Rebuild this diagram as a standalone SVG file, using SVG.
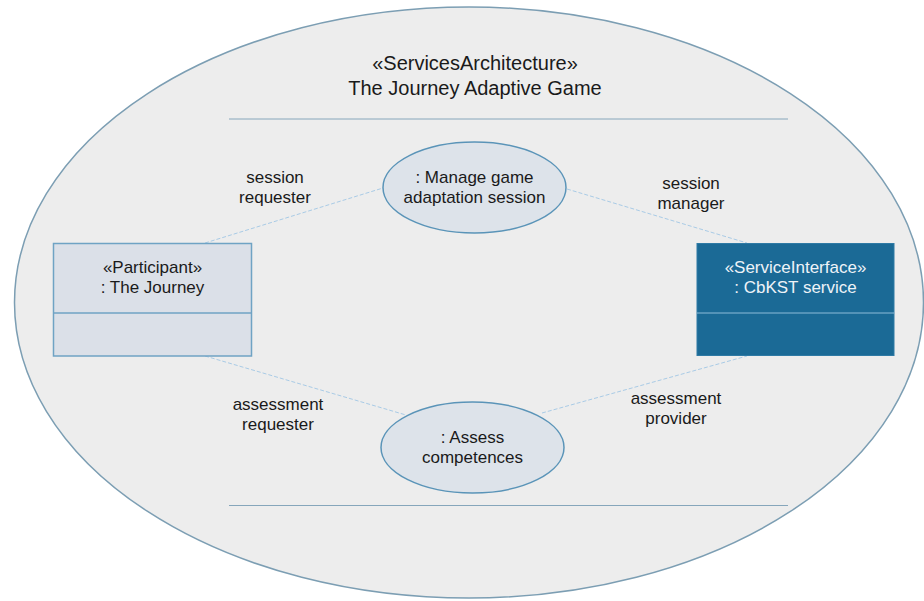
<svg xmlns="http://www.w3.org/2000/svg" width="924" height="601" viewBox="0 0 924 601">
<style>
text{font-family:"Liberation Sans",Arial,sans-serif;fill:#1a1a1a;text-anchor:middle}
.t{font-size:20px}
.l{font-size:17px}
.w{fill:#eef3f8}
.conn{stroke:#a9cbe6;stroke-width:1;stroke-dasharray:4 2;fill:none}
.sep{stroke:#86a6bb;stroke-width:1}
.uc{fill:#dde3ea;stroke:#5a94b8;stroke-width:1.5}
</style>
<rect width="924" height="601" fill="#ffffff"/>
<g id="architecture">
<ellipse cx="469" cy="302.5" rx="454.5" ry="295.5" fill="#ededed" stroke="#7c9eb3" stroke-width="1.5"/>
<text class="t" x="475" y="70">«ServicesArchitecture»</text>
<text class="t" x="475" y="95">The Journey Adaptive Game</text>
<line class="sep" x1="229" y1="119" x2="788" y2="119"/>
<line class="sep" x1="229" y1="505.5" x2="788" y2="505.5"/>
</g>
<g id="connectors">
<line class="conn" x1="205" y1="243" x2="383" y2="188"/>
<line class="conn" x1="567" y1="189" x2="747" y2="243"/>
<line class="conn" x1="205" y1="356" x2="406" y2="415"/>
<line class="conn" x1="542" y1="413" x2="747" y2="356"/>
<text class="l" x="275" y="183">session</text>
<text class="l" x="275" y="203">requester</text>
<text class="l" x="691" y="189">session</text>
<text class="l" x="691" y="209">manager</text>
<text class="l" x="278" y="410">assessment</text>
<text class="l" x="278" y="430">requester</text>
<text class="l" x="676" y="404">assessment</text>
<text class="l" x="676" y="424">provider</text>
</g>
<g id="manage">
<ellipse class="uc" cx="474.5" cy="187.5" rx="91.5" ry="45.5"/>
<text class="l" x="474.5" y="183">: Manage game</text>
<text class="l" x="474.5" y="203">adaptation session</text>
</g>
<g id="assess">
<ellipse class="uc" cx="472.5" cy="447.5" rx="91.5" ry="45.5"/>
<text class="l" x="472.5" y="443">: Assess</text>
<text class="l" x="472.5" y="463">competences</text>
</g>
<g id="participant">
<rect x="53.5" y="243.5" width="198" height="112.5" fill="#dbe0e8" stroke="#6fa3c4" stroke-width="1.5"/>
<line x1="53.5" y1="313" x2="251.5" y2="313" stroke="#6fa3c4" stroke-width="1.5"/>
<text class="l" x="152.5" y="273">«Participant»</text>
<text class="l" x="152.5" y="293">: The Journey</text>
</g>
<g id="service">
<rect x="697" y="243.5" width="197" height="112" fill="#1b6a96" stroke="#2e7aa5" stroke-width="1"/>
<line x1="697" y1="313" x2="894" y2="313" stroke="#8dbbd8" stroke-width="1"/>
<text class="l w" x="795.5" y="273">«ServiceInterface»</text>
<text class="l w" x="795.5" y="293">: CbKST service</text>
</g>
</svg>
